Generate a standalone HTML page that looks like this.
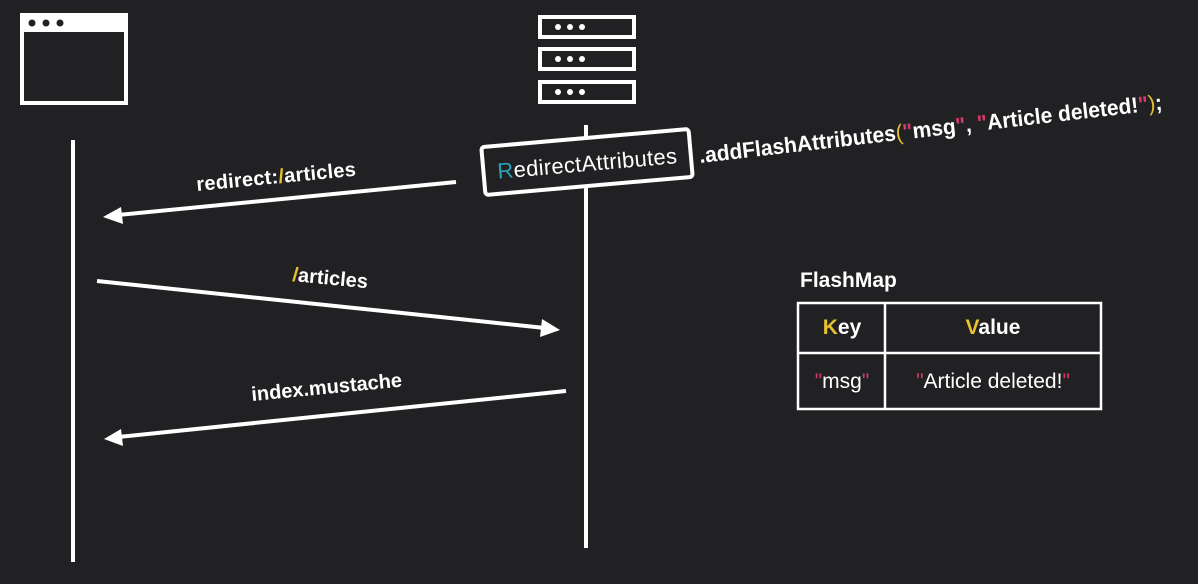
<!DOCTYPE html>
<html><head><style>
body{margin:0;background:#212124;}
svg{display:block;font-family:"Liberation Sans",sans-serif;}
</style></head><body>
<svg width="1198" height="584" viewBox="0 0 1198 584">
<rect width="1198" height="584" fill="#212124"/>
<!-- browser icon -->
<rect x="22" y="15" width="104" height="88" fill="none" stroke="#fff" stroke-width="4"/>
<rect x="22" y="15" width="104" height="17" fill="#fff"/>
<circle cx="32" cy="23" r="3.5" fill="#212124"/><circle cx="46" cy="23" r="3.5" fill="#212124"/><circle cx="60" cy="23" r="3.5" fill="#212124"/>
<!-- server icon -->
<g fill="none" stroke="#fff" stroke-width="4">
<rect x="540" y="17" width="94" height="20"/>
<rect x="540" y="49" width="94" height="20"/>
<rect x="540" y="82" width="94" height="20"/>
</g>
<g fill="#fff">
<circle cx="558" cy="27" r="3"/><circle cx="570" cy="27" r="3"/><circle cx="582" cy="27" r="3"/>
<circle cx="558" cy="59" r="3"/><circle cx="570" cy="59" r="3"/><circle cx="582" cy="59" r="3"/>
<circle cx="558" cy="92" r="3"/><circle cx="570" cy="92" r="3"/><circle cx="582" cy="92" r="3"/>
</g>
<!-- lifelines -->
<line x1="73" y1="140" x2="73" y2="562" stroke="#fff" stroke-width="4"/>
<line x1="586" y1="125" x2="586" y2="548" stroke="#fff" stroke-width="4"/>
<!-- arrows -->
<g stroke="#fff" stroke-width="4">
<line x1="456" y1="182" x2="118" y2="215"/>
<line x1="97" y1="281" x2="545" y2="328"/>
<line x1="566" y1="391" x2="118" y2="437"/>
</g>
<g fill="#fff">
<polygon points="103,217 121,207 123,224"/>
<polygon points="560,330 542,319 540,337"/>
<polygon points="104,439 121,429 123,446"/>
</g>
<g font-size="20" fill="#fff" font-weight="bold">
<text x="197" y="191" transform="rotate(-5.5 197 191)" textLength="160">redirect:<tspan fill="#e8c22e">/</tspan>articles</text>
<text x="292" y="281" transform="rotate(5.5 292 281)"><tspan fill="#e8c22e">/</tspan>articles</text>
<text x="252" y="401" transform="rotate(-5.5 252 401)">index.mustache</text>
</g>
<!-- RedirectAttributes box -->
<g transform="rotate(-5 587 162)">
<rect x="483" y="138" width="208" height="48" fill="#212124" stroke="#fff" stroke-width="4" rx="3"/>
<text x="497" y="171" font-size="22" fill="#fff" textLength="180"><tspan fill="#2aa3b8">R</tspan>edirectAttributes</text>
</g>
<text x="700" y="163" font-size="22" fill="#fff" font-weight="bold" transform="rotate(-6.6 700 163)" textLength="466" lengthAdjust="spacingAndGlyphs">.addFlashAttributes<tspan fill="#e8c22e" font-weight="normal">(</tspan><tspan fill="#d63a6a">"</tspan>msg<tspan fill="#d63a6a">"</tspan>, <tspan fill="#d63a6a">"</tspan>Article deleted!<tspan fill="#d63a6a">"</tspan><tspan fill="#e8c22e" font-weight="normal">)</tspan>;</text>
<!-- FlashMap -->
<text x="800" y="287" font-size="21" fill="#fff" font-weight="bold">FlashMap</text>
<g fill="none" stroke="#fff" stroke-width="2.5">
<rect x="798" y="303" width="303" height="106"/>
<line x1="798" y1="353" x2="1101" y2="353"/>
<line x1="885" y1="303" x2="885" y2="409"/>
</g>
<g font-size="21" fill="#fff" text-anchor="middle">
<text x="842" y="334" font-weight="bold"><tspan fill="#e8c22e">K</tspan>ey</text>
<text x="993" y="334" font-weight="bold"><tspan fill="#e8c22e">V</tspan>alue</text>
<text x="842" y="388"><tspan fill="#d63a6a">"</tspan>msg<tspan fill="#d63a6a">"</tspan></text>
<text x="993" y="388"><tspan fill="#d63a6a">"</tspan>Article deleted!<tspan fill="#d63a6a">"</tspan></text>
</g>
</svg>
</body></html>
